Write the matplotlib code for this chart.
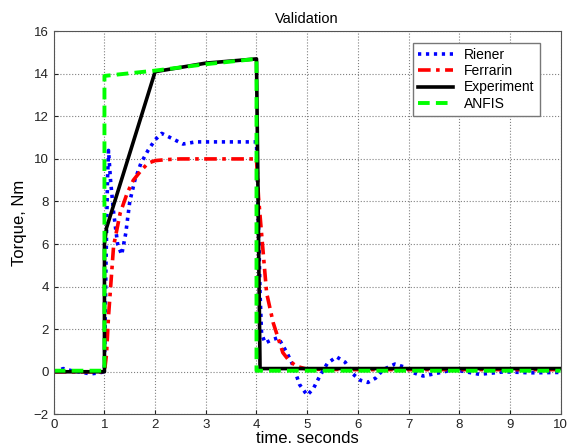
import matplotlib
matplotlib.use("Agg")
import matplotlib.pyplot as plt

plt.rcParams['font.family'] = ['Liberation Sans', 'DejaVu Sans']

# Riener model response (blue dotted)
riener_t = [0, 0.19, 0.35, 0.5, 0.72, 0.9, 1.0, 1.03, 1.06, 1.08, 1.12, 1.18, 1.26, 1.34,
            1.42, 1.5, 1.6, 1.72, 1.86, 2.0, 2.13, 2.3, 2.55, 2.8, 3.0, 3.5, 4.0,
            4.03, 4.07, 4.1, 4.17, 4.3, 4.43, 4.6, 4.72, 4.85, 5.0, 5.12, 5.25, 5.4,
            5.58, 5.75, 5.9, 6.05, 6.2, 6.35, 6.5, 6.73, 6.95, 7.1, 7.29, 7.5, 7.9,
            8.4, 8.9, 9.4, 10]
riener_T = [0, 0.15, 0.05, 0.0, -0.1, -0.05, 0.0, 5.0, 9.0, 10.4, 9.0, 7.5, 6.0, 5.5,
            6.5, 8.0, 9.0, 9.8, 10.4, 10.9, 11.2, 11.0, 10.7, 10.8, 10.8, 10.8, 10.8,
            8.0, 3.7, 1.8, 1.35, 1.5, 1.6, 0.9, 0.3, -0.6, -1.1, -0.8, -0.2, 0.4,
            0.7, 0.45, -0.1, -0.4, -0.5, -0.3, 0.1, 0.36, 0.2, -0.05, -0.2, -0.1, 0.1,
            -0.12, 0.0, -0.05, -0.03]

# Ferrarin model response (red dash-dot)
ferrarin_t = [0, 1.0, 1.04, 1.08, 1.18, 1.31, 1.45, 1.57, 1.72, 1.86, 2.0, 2.23, 2.5,
              3.0, 3.5, 4.0, 4.04, 4.1, 4.2, 4.33, 4.52, 4.65, 4.8, 5.0, 6.0, 7.0,
              8.0, 9.0, 10]
ferrarin_T = [0, 0, 0.8, 2.6, 5.9, 7.45, 8.4, 9.0, 9.45, 9.8, 9.92, 9.97, 10.0,
              10.0, 10.0, 10.0, 8.2, 6.5, 3.7, 2.3, 0.9, 0.5, 0.25, 0.12, 0.1, 0.1,
              0.1, 0.1, 0.1]

# measured torque (black solid)
experiment_t = [0, 1.0, 1.0, 1.04, 2.0, 3.0, 4.0, 4.07, 10]
experiment_T = [0, 0, 6.0, 6.75, 14.1, 14.5, 14.7, 0.15, 0.15]

# ANFIS prediction (green dashed)
anfis_t = [0, 1.0, 1.0, 2.0, 3.0, 4.0, 4.0, 10]
anfis_T = [0.05, 0.05, 13.9, 14.15, 14.45, 14.7, 0.05, 0.05]

fig = plt.figure(figsize=(5.72, 4.46), dpi=100)
ax = fig.add_axes([0.094, 0.071, 0.886, 0.859])

ax.plot(riener_t, riener_T, color='#0000ff', lw=2.6, linestyle=(0, (0.9, 1.3)),
        label='Riener')
ax.plot(ferrarin_t, ferrarin_T, color='#ff0000', lw=2.6,
        linestyle=(0, (3.5, 1.5, 1, 1.5)), label='Ferrarin')
ax.plot(experiment_t, experiment_T, color='black', lw=2.6, label='Experiment')
ax.plot(anfis_t, anfis_T, color='#00ff00', lw=2.8, linestyle=(0, (3, 1.6)),
        label='ANFIS')

ax.set_xlim(0, 10)
ax.set_ylim(-2, 16)
ax.set_xticks(range(0, 11))
ax.set_yticks(range(-2, 17, 2))
ax.grid(True, linestyle=':', color='#808080', lw=0.8)
ax.tick_params(direction='in', labelsize=9.5, colors='#222222', length=3)
for s in ax.spines.values():
    s.set_color('#555555')

ax.set_title('Validation', fontsize=10.5, pad=6)
ax.set_xlabel('time. seconds', fontsize=12, labelpad=0)
ax.set_ylabel('Torque, Nm', fontsize=12, labelpad=5)

leg = ax.legend(loc='upper right', bbox_to_anchor=(0.96, 0.97), borderaxespad=0,
                fancybox=False, fontsize=10, handlelength=2.5, labelspacing=0.15,
                borderpad=0.4, framealpha=1)
leg.get_frame().set_edgecolor('#777777')

fig.savefig('out.png', dpi=100)
